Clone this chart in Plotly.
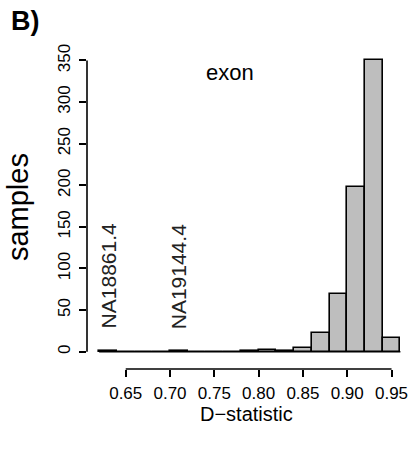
import plotly.graph_objects as go

# data
bin_edges = [0.62, 0.64, 0.66, 0.68, 0.70, 0.72, 0.74, 0.76, 0.78, 0.80,
             0.82, 0.84, 0.86, 0.88, 0.90, 0.92, 0.94, 0.96]
counts = [1, 0, 0, 0, 1, 0, 0, 0, 1, 2, 1, 5, 23, 69, 198, 351, 16]
x_ticks = [0.65, 0.70, 0.75, 0.80, 0.85, 0.90, 0.95]
x_tick_labels = ["0.65", "0.70", "0.75", "0.80", "0.85", "0.90", "0.95"]
y_ticks = [0, 50, 100, 150, 200, 250, 300, 350]
outlier_labels = ["NA18861.4", "NA19144.4"]
outlier_bins = [0, 4]

centers = [(bin_edges[i] + bin_edges[i + 1]) / 2 for i in range(len(counts))]
widths = [bin_edges[i + 1] - bin_edges[i] for i in range(len(counts))]

FONT = "Liberation Sans, Arial, Helvetica, sans-serif"

fig = go.Figure()
fig.add_trace(go.Bar(
    x=centers, y=counts, width=widths,
    marker=dict(color="#bebebe", line=dict(color="black", width=1.6)),
    showlegend=False, hoverinfo="skip",
))

shapes = [
    # baseline of histogram (zero-height bins)
    dict(type="line", xref="x", yref="y", x0=bin_edges[0], x1=bin_edges[-1], y0=0, y1=0,
         line=dict(color="black", width=1.6), layer="below"),
    # x axis line
    dict(type="line", xref="x", yref="paper", x0=x_ticks[0], x1=x_ticks[-1], y0=0, y1=0,
         line=dict(color="black", width=1.6)),
    # y axis line
    dict(type="line", xref="paper", yref="y", x0=0, x1=0, y0=y_ticks[0], y1=y_ticks[-1],
         line=dict(color="black", width=1.6)),
]

annotations = [
    dict(text="exon", x=0.768, y=336, xref="x", yref="y", showarrow=False,
         xanchor="center", yanchor="middle",
         font=dict(family=FONT, size=22, color="black")),
    dict(text="samples", x=-0.212, y=0.5, xref="paper", yref="paper", showarrow=False,
         xanchor="center", yanchor="middle",
         textangle=-90, font=dict(family=FONT, size=29, color="black")),
    dict(text="D\u2212statistic", x=0.4923, y=-0.1375, xref="paper", yref="paper", showarrow=False,
         xanchor="center", yanchor="middle",
         font=dict(family=FONT, size=20, color="black")),
    dict(text="<b>B)</b>", x=-0.19, y=1.074, xref="paper", yref="paper", showarrow=False,
         xanchor="center", yanchor="middle",
         font=dict(family=FONT, size=27, color="black")),
]
for lab, b in zip(outlier_labels, outlier_bins):
    annotations.append(dict(text=lab, x=centers[b], y=25, xref="x", yref="y",
                            showarrow=False, textangle=-90, xanchor="center", yanchor="bottom",
                            font=dict(family=FONT, size=21, color="#222222")))

fig.update_layout(
    width=414, height=450, autosize=False,
    margin=dict(l=87, r=2, t=45, b=81),
    plot_bgcolor="white", paper_bgcolor="white",
    bargap=0,
    shapes=shapes, annotations=annotations,
    xaxis=dict(range=[0.6063, 0.9731], tickvals=x_ticks, ticktext=x_tick_labels,
               ticks="outside", ticklen=7, tickwidth=1.6, tickcolor="black",
               showline=False, showgrid=False, zeroline=False, automargin=False,
               ticklabelstandoff=2,
               tickfont=dict(family=FONT, size=17, color="black")),
    yaxis=dict(range=[-20.8, 368.6], tickvals=y_ticks,
               ticks="outside", ticklen=7, tickwidth=1.6, tickcolor="black",
               tickangle=-90, automargin=False, ticklabelstandoff=2,
               showline=False, showgrid=False, zeroline=False,
               tickfont=dict(family=FONT, size=17, color="black")),
)

fig.write_html("out.html")
